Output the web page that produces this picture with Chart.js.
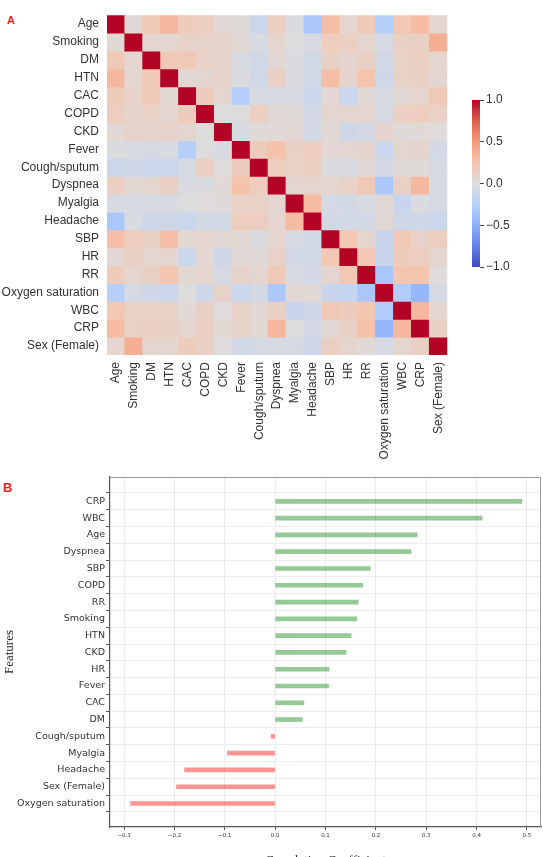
<!DOCTYPE html>
<html>
<head>
<meta charset="utf-8">
<script src="https://cdn.jsdelivr.net/npm/chart.js@4"></script>
<style>
  body { margin: 0; width: 543px; height: 857px; overflow: hidden; position: relative; background: #fff; }
  .box { position: absolute; }
  .tag { position: absolute; color: #e8261e; font-family: "Liberation Sans", Arial, sans-serif; font-weight: bold; line-height: 1; }
</style>
</head>
<body>
<div class="tag" style="left:7px;top:14.5px;font-size:11px">A</div>
<div class="tag" style="left:3px;top:481px;font-size:13px">B</div>
<div class="box" style="left:0;top:0;width:460px;height:465px"><canvas id="heat"></canvas></div>
<div class="box" style="left:460px;top:0;width:83px;height:465px"><canvas id="cbar"></canvas></div>
<div class="box" style="left:0;top:465px;width:543px;height:420px"><canvas id="corr"></canvas></div>
<script>
// heatmap features (row / column order)
const features = ['Age', 'Smoking', 'DM', 'HTN', 'CAC', 'COPD', 'CKD', 'Fever', 'Cough/sputum', 'Dyspnea',
  'Myalgia', 'Headache', 'SBP', 'HR', 'RR', 'Oxygen saturation', 'WBC', 'CRP', 'Sex (Female)']

// correlation matrix (one row per feature)
const corr = [
  [1.00, 0.04, 0.20, 0.33, 0.17, 0.15, 0.05, 0.02, -0.12, 0.14, -0.03, -0.33, 0.28, 0.07, 0.19, -0.26, 0.22, 0.30, 0.07],
  [0.04, 1.00, 0.07, 0.06, 0.10, 0.10, 0.10, 0.04, -0.05, 0.07, 0.00, -0.04, 0.16, 0.14, 0.07, -0.05, 0.12, 0.12, 0.38],
  [0.20, 0.07, 1.00, 0.20, 0.20, 0.11, 0.10, -0.04, -0.09, 0.05, -0.02, -0.09, 0.12, 0.08, 0.12, -0.08, 0.11, 0.14, 0.07],
  [0.33, 0.06, 0.20, 1.00, 0.04, 0.06, 0.10, -0.03, -0.09, 0.13, -0.02, -0.08, 0.28, 0.08, 0.25, -0.10, 0.11, 0.12, 0.06],
  [0.17, 0.10, 0.20, 0.04, 1.00, 0.17, 0.07, -0.26, -0.04, -0.04, -0.04, -0.13, 0.05, -0.13, 0.04, -0.04, 0.04, 0.07, 0.20],
  [0.15, 0.10, 0.11, 0.06, 0.17, 1.00, 0.00, 0.00, 0.14, 0.03, 0.02, -0.07, 0.07, 0.06, 0.07, -0.06, 0.14, 0.16, 0.11],
  [0.05, 0.10, 0.10, 0.10, 0.07, 0.00, 1.00, -0.04, 0.02, 0.03, 0.05, -0.07, 0.04, -0.10, -0.07, 0.08, 0.02, 0.03, 0.01],
  [-0.03, -0.04, -0.06, -0.04, -0.26, 0.00, -0.04, 1.00, 0.18, 0.26, 0.12, 0.16, 0.05, 0.06, 0.08, -0.13, 0.07, 0.08, -0.07],
  [-0.12, -0.10, -0.12, -0.12, -0.05, 0.14, 0.01, 0.18, 1.00, 0.16, 0.11, 0.15, -0.02, -0.03, 0.04, -0.07, 0.02, 0.02, -0.06],
  [0.14, 0.05, 0.06, 0.13, -0.04, -0.03, 0.03, 0.26, 0.16, 1.00, 0.07, 0.07, 0.07, 0.11, 0.20, -0.32, 0.13, 0.32, -0.06],
  [-0.04, -0.04, -0.04, -0.04, 0.00, 0.01, 0.02, 0.11, 0.11, 0.07, 1.00, 0.30, -0.06, -0.07, -0.04, 0.04, -0.14, -0.03, -0.06],
  [-0.33, -0.04, -0.10, -0.10, -0.13, -0.07, -0.07, 0.16, 0.15, 0.07, 0.30, 1.00, -0.07, -0.07, -0.07, 0.04, -0.11, -0.10, -0.12],
  [0.28, 0.16, 0.12, 0.28, 0.05, 0.07, 0.04, 0.05, -0.02, 0.07, -0.06, -0.07, 1.00, 0.22, 0.07, -0.14, 0.20, 0.10, 0.16],
  [0.05, 0.12, 0.07, 0.07, -0.13, 0.05, -0.10, 0.05, 0.02, 0.11, -0.07, -0.07, 0.22, 1.00, 0.22, -0.14, 0.17, 0.15, 0.07],
  [0.17, 0.07, 0.13, 0.24, 0.04, 0.07, -0.06, 0.10, 0.06, 0.20, -0.04, -0.07, 0.07, 0.22, 1.00, -0.33, 0.24, 0.25, 0.01],
  [-0.26, -0.06, -0.10, -0.12, 0.00, -0.10, 0.10, -0.13, -0.07, -0.32, 0.04, 0.04, -0.14, -0.16, -0.33, 1.00, -0.28, -0.45, -0.06],
  [0.22, 0.11, 0.11, 0.11, 0.03, 0.12, 0.01, 0.10, 0.04, 0.13, -0.14, -0.11, 0.20, 0.17, 0.24, -0.28, 1.00, 0.33, 0.07],
  [0.30, 0.11, 0.14, 0.13, 0.07, 0.14, 0.04, 0.10, 0.04, 0.32, -0.01, -0.07, 0.05, 0.13, 0.27, -0.45, 0.33, 1.00, 0.13],
  [0.07, 0.38, 0.07, 0.06, 0.17, 0.13, 0.01, -0.07, -0.06, -0.06, -0.06, -0.11, 0.14, 0.07, 0.03, -0.05, 0.07, 0.13, 1.00]
]

const cbarTicks = [-1, -0.5, 0, 0.5, 1]

// panel B: correlation with outcome, sorted
const barFeatures = ['CRP', 'WBC', 'Age', 'Dyspnea', 'SBP', 'COPD', 'RR', 'Smoking', 'HTN', 'CKD',
  'HR', 'Fever', 'CAC', 'DM', 'Cough/sputum', 'Myalgia', 'Headache', 'Sex (Female)', 'Oxygen saturation']
const barValues = [0.49, 0.411, 0.282, 0.27, 0.189, 0.174, 0.165, 0.162, 0.151, 0.141,
  0.107, 0.106, 0.057, 0.054, -0.008, -0.095, -0.18, -0.196, -0.287]
const xTicksB = [-0.3, -0.2, -0.1, 0, 0.1, 0.2, 0.3, 0.4, 0.5]

// coolwarm colormap stops
const cmap = [
  [-1.00, [59, 76, 192]], [-0.75, [98, 130, 234]], [-0.50, [141, 176, 254]], [-0.25, [184, 208, 249]],
  [0.00, [221, 220, 220]], [0.25, [245, 196, 173]], [0.50, [244, 154, 123]], [0.75, [222, 96, 77]],
  [1.00, [180, 4, 38]]
]
function coolwarm(v) {
  v = Math.max(-1, Math.min(1, v))
  for (let i = 1; i < cmap.length; i++) {
    if (v <= cmap[i][0]) {
      const [a, ca] = cmap[i - 1], [b, cb] = cmap[i]
      const t = (v - a) / (b - a)
      const c = ca.map((x, k) => Math.round(x + (cb[k] - x) * t))
      return `rgb(${c[0]},${c[1]},${c[2]})`
    }
  }
  return 'rgb(180,4,38)'
}
const minus = s => s.replace('-', '\u2212')

Chart.defaults.animation = false
Chart.defaults.plugins.legend.display = false
Chart.defaults.plugins.tooltip.enabled = false

const sans = 'Liberation Sans, Arial, sans-serif'

// ---- panel A heatmap ----
new Chart(document.getElementById('heat'), {
  type: 'bar',
  data: {
    labels: features,
    datasets: features.map((name, r) => ({
      label: name,
      data: features.map(() => [r, r + 1]),
      backgroundColor: corr[r].map(coolwarm),
      borderWidth: 0,
      barPercentage: 1,
      categoryPercentage: 1,
      grouped: false,
      inflateAmount: 0.5
    }))
  },
  options: {
    responsive: true,
    maintainAspectRatio: false,
    layout: { padding: { left: 0, top: 12, right: 9, bottom: 0 } },
    scales: {
      x: {
        grid: { display: false, drawTicks: false },
        border: { display: false },
        ticks: { autoSkip: false, minRotation: 90, maxRotation: 90, padding: 7, color: '#333', font: { family: sans, size: 12 } },
        afterFit: s => { s.height = 110 }
      },
      y: {
        type: 'linear',
        reverse: true,
        min: 0,
        max: features.length,
        grid: { display: false, drawTicks: false },
        border: { display: false },
        afterBuildTicks: s => { s.ticks = features.map((f, i) => ({ value: i + 0.5 })) },
        ticks: { autoSkip: false, padding: 8, color: '#333', font: { family: sans, size: 12 },
          callback: (v, i) => features[i] },
        afterFit: s => { s.width = 107 }
      }
    }
  }
})

// ---- colorbar ----
new Chart(document.getElementById('cbar'), {
  type: 'bar',
  data: {
    labels: [''],
    datasets: [{
      data: [[cbarTicks[0], cbarTicks[cbarTicks.length - 1]]],
      borderWidth: 0,
      barPercentage: 1,
      categoryPercentage: 1,
      backgroundColor: ctx => {
        const chart = ctx.chart
        if (!chart.chartArea) return null
        const ys = chart.scales.y
        const g = chart.ctx.createLinearGradient(0, ys.getPixelForValue(-1), 0, ys.getPixelForValue(1))
        cmap.forEach(([v, c]) => g.addColorStop((v + 1) / 2, `rgb(${c[0]},${c[1]},${c[2]})`))
        return g
      }
    }]
  },
  options: {
    responsive: true,
    maintainAspectRatio: false,
    layout: { padding: { left: 12, top: 100, right: 0, bottom: 198 } },
    scales: {
      x: { display: false },
      y: {
        position: 'right',
        min: -1,
        max: 1,
        grid: { drawOnChartArea: false, drawTicks: true, tickLength: 4, tickColor: '#444' },
        border: { display: false },
        afterBuildTicks: s => { s.ticks = cbarTicks.map(v => ({ value: v })) },
        ticks: { padding: 2, color: '#333', font: { family: sans, size: 12 },
          callback: v => minus(v.toFixed(1)) },
        afterFit: s => { s.width = 63 }
      }
    }
  }
})

// ---- panel B bars ----
const boxLines = {
  id: 'boxLines',
  afterDraw(chart) {
    const { ctx, chartArea: a } = chart
    ctx.save()
    ctx.strokeStyle = '#9a9a9a'
    ctx.lineWidth = 1
    ctx.beginPath()
    ctx.moveTo(a.left, a.top + 0.5)
    ctx.lineTo(a.right - 0.5, a.top + 0.5)
    ctx.lineTo(a.right - 0.5, a.bottom)
    ctx.stroke()
    ctx.restore()
  }
}

new Chart(document.getElementById('corr'), {
  type: 'bar',
  data: {
    datasets: [{
      data: barFeatures.map((f, i) => ({ x: barValues[i], y: i })),
      backgroundColor: barValues.map(v => v >= 0 ? 'rgba(0,128,0,0.42)' : 'rgba(255,0,0,0.42)'),
      borderWidth: 0,
      barThickness: 4
    }]
  },
  options: {
    indexAxis: 'y',
    responsive: true,
    maintainAspectRatio: false,
    layout: { padding: { left: 0, top: 12, right: 2, bottom: 0 } },
    scales: {
      x: {
        type: 'linear',
        min: -0.328,
        max: 0.528,
        afterBuildTicks: s => { s.ticks = xTicksB.map(v => ({ value: v })) },
        grid: { color: '#ececec', tickColor: '#555', tickLength: 3 },
        border: { color: '#555', width: 1.2 },
        ticks: { padding: 2, color: '#333', font: { family: 'DejaVu Sans', size: 5.5 },
          callback: v => minus(v.toFixed(1)) },
        title: { display: true, text: 'Correlation Coefficient', color: '#222',
          font: { family: 'Liberation Serif', size: 13 }, padding: { top: 0, bottom: 17 } },
        afterFit: s => { s.height = 58 }
      },
      y: {
        type: 'linear',
        reverse: true,
        min: -0.9,
        max: 18.85,
        afterBuildTicks: s => { s.ticks = barFeatures.map((f, i) => ({ value: i })) },
        grid: { color: '#ececec', tickColor: '#555', tickLength: 4 },
        border: { color: '#555', width: 1.2 },
        ticks: { autoSkip: false, padding: 1, color: '#333', font: { family: 'DejaVu Sans', size: 9.5 },
          callback: (v, i) => barFeatures[i] },
        title: { display: true, text: 'Features', color: '#222',
          font: { family: 'Liberation Serif', size: 13 }, padding: { top: 2, bottom: 0 } },
        afterFit: s => { s.width = 110 }
      }
    }
  },
  plugins: [boxLines]
})
</script>
</body>
</html>
